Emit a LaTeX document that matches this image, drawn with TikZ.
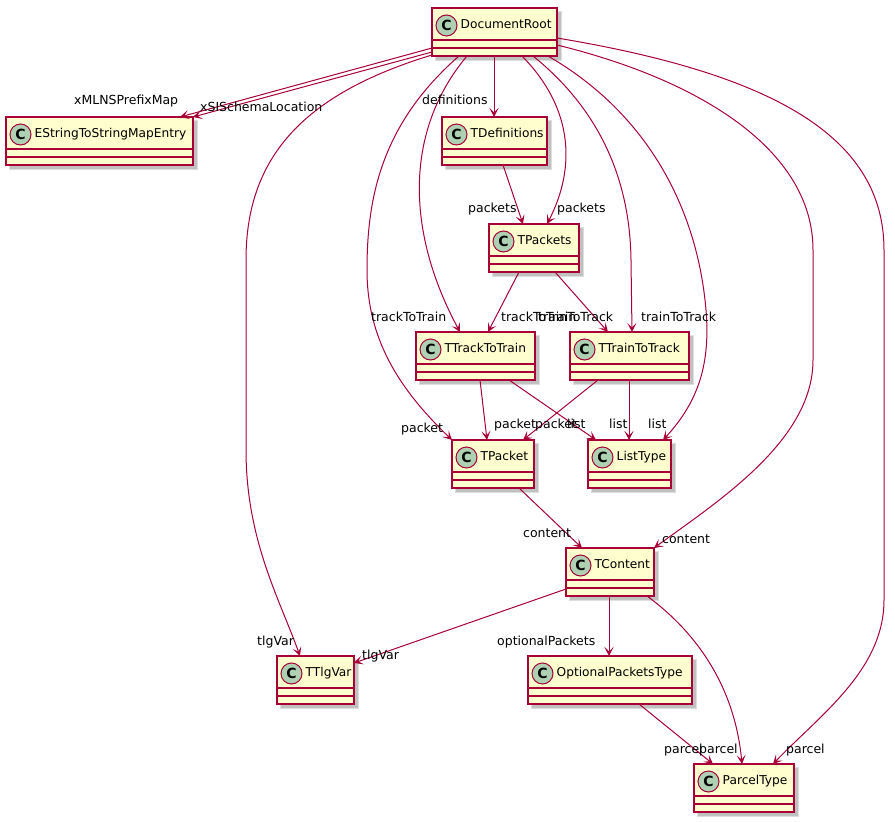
\documentclass[tikz,border=0pt]{standalone}
\usepackage{fontspec}
\setmainfont{DejaVu Sans}
\usetikzlibrary{calc,arrows.meta}
\definecolor{umlred}{HTML}{A80036}
\definecolor{umlfill}{HTML}{FEFECE}
\definecolor{umlcirc}{HTML}{ADD1B2}
\tikzset{
  cbox/.style={rectangle,draw=umlred,fill=umlfill,line width=1.5pt,minimum height=48pt,inner sep=0pt,outer sep=0pt},
  cline/.style={draw=umlred,line width=1.5pt},
  shadowc/.style={fill=black,opacity=0.13},
  ccirc/.style={circle,fill=umlcirc,draw=umlred,line width=1pt,minimum size=21pt,inner sep=0pt,font=\fontsize{14}{14}\selectfont\bfseries},
  cname/.style={inner sep=0pt,font=\fontsize{12.2}{14}\selectfont},
  elabel/.style={inner sep=0pt,anchor=base west,font=\fontsize{12.5}{14}\selectfont},
  edge/.style={draw=umlred,line width=1pt,-{Stealth[length=9pt,width=9pt,inset=4.5pt]}},
}
\newcommand\umlclass[5]{%
  \fill[shadowc] (#2+2.5,#3+2.5) rectangle (#4+4.5,#3+52.5);
  \fill[shadowc] (#2+3.5,#3+3.5) rectangle (#4+3.5,#3+51.5);
  \node[cbox,minimum width={(#4-#2)*1pt},anchor=north west] (#1) at (#2,#3) {};
  \draw[cline] (#2,#3+32) -- (#4,#3+32) (#2,#3+40) -- (#4,#3+40);
  \node[ccirc] (#1-c) at (#2+14.5,#3+17.5) {C};
  \node[cname,anchor=base west] (#1-t) at (#2+28.5,#3+20.5) {#5};
}
\begin{document}
\begin{tikzpicture}[x=1pt,y=-1pt]
\useasboundingbox (0,0) rectangle (895,822);
\fill[white] (0,0) rectangle (895,822);
% classes
\umlclass{dr}{432}{8}{557}{DocumentRoot}
\umlclass{es}{6}{117}{193}{EStringToStringMapEntry}
\umlclass{td}{442}{117}{547}{TDefinitions}
\umlclass{tps}{489}{224}{579}{TPackets}
\umlclass{ttt}{416}{332}{535}{TTrackToTrain}
\umlclass{trt}{570}{332}{689}{TTrainToTrack}
\umlclass{tp}{452}{440}{534}{TPacket}
\umlclass{lt}{588}{440}{671}{ListType}
\umlclass{tc}{566}{548}{654}{TContent}
\umlclass{tv}{277}{656}{354}{TTlgVar}
\umlclass{opt}{528}{656}{692}{OptionalPacketsType}
\umlclass{pt}{694}{764}{794}{ParcelType}
% connectors
\draw[edge] ($(dr.north west)+(0,40)$) -- ($(es.north west)+(174,0)$);
\draw[edge] ($(dr.north west)+(0,44)$) -- (es.north east);
\draw[edge] ($(dr.north west)+(0,47)$) .. controls (300,95) and (246,160) .. (246,260) -- (246,450) .. controls (246,540) and (280,600) .. ($(tv.north west)+(23,0)$);
\draw[edge] ($(dr.south west)+(27,0)$) .. controls (380,125) and (367,200) .. (367,270) .. controls (367,340) and (400,390) .. (tp.north west);
\draw[edge] ($(dr.south west)+(35,0)$) .. controls (405,130) and (405,230) .. ($(ttt.north west)+(44,0)$);
\draw[edge] ($(dr.south west)+(62,0)$) -- ($(td.north west)+(52,0)$);
\draw[edge] ($(dr.south west)+(90,0)$) .. controls (575,110) and (575,170) .. ($(tps.north west)+(58,0)$);
\draw[edge] ($(td.south west)+(61,0)$) -- ($(tps.north west)+(34,0)$);
\draw[edge] ($(dr.south west)+(101,0)$) .. controls (600,110) and (630,180) .. (631,260) -- ($(trt.north west)+(62,0)$);
\draw[edge] ($(dr.south west)+(116,0)$) .. controls (650,115) and (695,210) .. (705,300) .. controls (712,360) and (700,400) .. ($(lt.north west)+(75,0)$);
\draw[edge] ($(dr.north east)+(0,37)$) .. controls (700,80) and (813,150) .. (813,250) -- (813,360) .. controls (813,440) and (720,500) .. (tc.north east);
\draw[edge] ($(dr.north east)+(0,30)$) .. controls (780,75) and (884,140) .. (884,250) -- (884,600) .. controls (884,670) and (820,715) .. ($(pt.north west)+(79,0)$);
\draw[edge] ($(tps.south west)+(30,0)$) -- ($(ttt.north west)+(72,0)$);
\draw[edge] ($(tps.south west)+(66,0)$) -- ($(trt.north west)+(38,0)$);
\draw[edge] ($(ttt.south west)+(64,0)$) -- ($(tp.north west)+(35,0)$);
\draw[edge] ($(ttt.south west)+(93,0)$) -- ($(lt.north west)+(8,0)$);
\draw[edge] ($(trt.south west)+(28,0)$) -- ($(tp.north west)+(71,0)$);
\draw[edge] ($(trt.south west)+(59,0)$) -- ($(lt.north west)+(41,0)$);
\draw[edge] ($(tp.south west)+(67,0)$) -- ($(tc.north west)+(16,0)$);
\draw[edge] ($(tc.north west)+(0,41)$) -- ($(tv.north east)+(0,7)$);
\draw[edge] ($(tc.south west)+(43,0)$) -- ($(opt.north west)+(81,0)$);
\draw[edge] ($(tc.south west)+(81,0)$) .. controls (700,635) and (735,690) .. ($(pt.north west)+(48,0)$);
\draw[edge] ($(opt.south west)+(111,0)$) -- ($(pt.north west)+(19,0)$);
% labels
\node[elabel] (l1) at (74,104) {xMLNSPrefixMap};
\node[elabel] (l2) at (200,111) {xSISchemaLocation};
\node[elabel] (l3) at (257,645) {tlgVar};
\node[elabel] (l4) at (401,432) {packet};
\node[elabel] (l5) at (371,321) {trackToTrain};
\node[elabel] (l6) at (422,104) {definitions};
\node[elabel] (l7) at (557,212) {packets};
\node[elabel] (l8) at (468,212) {packets};
\node[elabel] (l9) at (641,321) {trainToTrack};
\node[elabel] (l10) at (648,428) {list};
\node[elabel] (l11) at (662,543) {content};
\node[elabel] (l12) at (786,753) {parcel};
\node[elabel] (l13) at (501,321) {trackToTrain};
\node[elabel] (l14) at (538,321) {trainToTrack};
\node[elabel] (l15) at (494,428) {packet};
\node[elabel] (l16) at (567,428) {list};
\node[elabel] (l17) at (535,428) {packet};
\node[elabel] (l18) at (609,428) {list};
\node[elabel] (l19) at (523,537) {content};
\node[elabel] (l20) at (362,659) {tlgVar};
\node[elabel] (l21) at (497,645) {optionalPackets};
\node[elabel] (l22) at (699,753) {parcel};
\node[elabel] (l23) at (664,753) {parcel};
\end{tikzpicture}
\end{document}
